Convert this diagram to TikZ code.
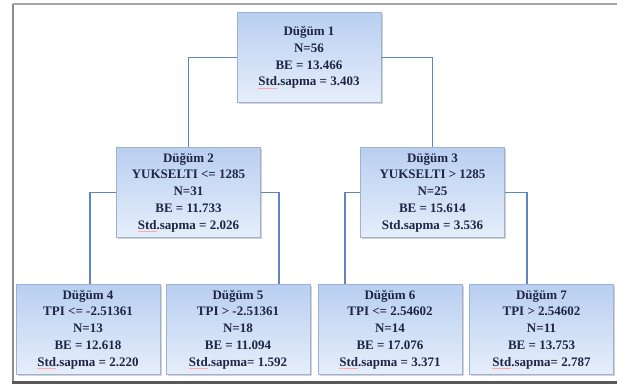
\documentclass[tikz,border=0pt]{standalone}
\usepackage{fontspec}
\setmainfont{Liberation Serif}
\usetikzlibrary{shadows}
\definecolor{txt}{HTML}{1E2545}
\definecolor{link}{HTML}{5E86C0}
\definecolor{boxtop}{HTML}{B9CFF1}
\definecolor{boxbot}{HTML}{E6EEFA}
\definecolor{boxline}{HTML}{9DB2D3}
\newlength\splw
\newcommand\spl[1]{\settowidth\splw{#1}\rlap{\textcolor{red!35}{\rule[-2.4pt]{\splw}{0.5pt}}}#1}
\tikzset{
  treebox/.style={draw=boxline, line width=0.6pt, top color=boxtop, bottom color=boxbot,
    minimum width=144pt, minimum height=90pt, inner sep=2pt, align=center,
    text=txt, font=\fontsize{13}{16.8}\selectfont\bfseries,
    drop shadow={shadow xshift=1.5pt, shadow yshift=-1.5pt, fill=black!35, opacity=0.5}},
  link/.style={draw=link, line width=1.6pt},
}
\begin{document}
\begin{tikzpicture}[x=1pt,y=-1pt]
\useasboundingbox (0,0) rectangle (617,387);
\fill[white] (0,0) rectangle (617,387);
% frame
\draw[black!35, line width=2pt] (12.5,4.5) -- (617,4.5);
\draw[black!45, line width=2pt] (12.5,4.5) -- (12.5,382);
\draw[black!65, line width=3pt] (11.5,382) -- (617,382);
% nodes
\node[treebox] (n1) at (309,57.5) {Düğüm 1\\N=56\\BE = 13.466\\\spl{Std}.sapma = 3.403};
\node[treebox] (n2) at (188.5,192.5) {Düğüm 2\\YUKSELTI <= 1285\\N=31\\BE = 11.733\\\spl{Std}.sapma = 2.026};
\node[treebox] (n3) at (432.5,192.5) {Düğüm 3\\YUKSELTI > 1285\\N=25\\BE = 15.614\\Std.sapma = 3.536};
\node[treebox] (n4) at (88,329.5) {Düğüm 4\\TPI <= -2.51361\\N=13\\BE = 12.618\\\spl{Std}.sapma = 2.220};
\node[treebox] (n5) at (238,329.5) {Düğüm 5\\TPI > -2.51361\\N=18\\BE = 11.094\\\spl{Std}.sapma= 1.592};
\node[treebox] (n6) at (390,329.5) {Düğüm 6\\TPI <= 2.54602\\N=14\\BE = 17.076\\\spl{Std}.sapma = 3.371};
\node[treebox] (n7) at (541.5,329.5) {Düğüm 7\\TPI > 2.54602\\N=11\\BE = 13.753\\\spl{Std}.sapma= 2.787};
% connectors
\draw[link] (n1.west) -| (n2.north);
\draw[link] (n1.east) -| (n3.north);
\draw[link] (n2.west) -| ([xshift=2pt]n4.north);
\draw[link] (n2.east) -| ([xshift=41pt]n5.north);
\draw[link] (n3.west) -| ([xshift=-45pt]n6.north);
\draw[link] (n3.east) -| ([xshift=-14.5pt]n7.north);
\end{tikzpicture}
\end{document}
